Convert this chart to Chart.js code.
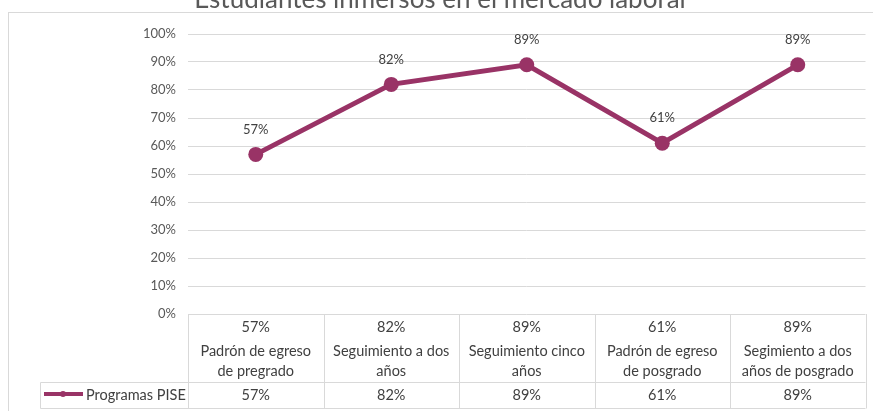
<!DOCTYPE html>
<html>
<head>
<meta charset="utf-8">
<script src="https://cdn.jsdelivr.net/npm/chart.js@4.4.1/dist/chart.umd.min.js"></script>
<style>
  html, body { margin: 0; padding: 0; background: #fff; }
</style>
</head>
<body>
<canvas id="graficaLaboral" width="873" height="411"></canvas>
<script>
const titulo = 'Estudiantes inmersos en el mercado laboral';
const categorias = [
  ['Padrón de egreso', 'de pregrado'],
  ['Seguimiento a dos', 'años'],
  ['Seguimiento cinco', 'años'],
  ['Padrón de egreso', 'de posgrado'],
  ['Segimiento a dos', 'años de posgrado']
];
const nombreSerie = 'Programas PISE';
const valores = [0.57, 0.82, 0.89, 0.61, 0.89];
const ejeYMin = 0;
const ejeYMax = 1;
const ejeYPaso = 0.1;

const colorLinea = '#993366';
const colorBorde = '#d9d9d9';
const colorTexto = '#404040';
const fuenteTabla = 'Lato, "Open Sans", sans-serif';

const pct = v => Math.round(v * 100) + '%';

// marco, titulo, etiquetas de datos y tabla de datos
const extras = {
  id: 'extras',
  beforeDraw(chart) {
    const ctx = chart.ctx;
    ctx.save();
    ctx.strokeStyle = colorBorde;
    ctx.lineWidth = 1;
    ctx.strokeRect(8.5, 12.5, 900, 500);
    ctx.fillStyle = '#595959';
    ctx.font = '26px Lato, "Open Sans", sans-serif';
    ctx.textAlign = 'center';
    ctx.textBaseline = 'alphabetic';
    ctx.fillText(titulo, 440, 8);
    ctx.restore();
  },
  afterDatasetsDraw(chart) {
    const ctx = chart.ctx;
    const meta = chart.getDatasetMeta(0);
    ctx.save();
    ctx.fillStyle = colorTexto;
    ctx.font = '13px ' + fuenteTabla;
    ctx.textAlign = 'center';
    ctx.textBaseline = 'middle';
    meta.data.forEach((p, i) => {
      ctx.fillText(pct(valores[i]), p.x, p.y - 25);
    });
    ctx.restore();
  },
  afterDraw(chart) {
    const ctx = chart.ctx;
    const area = chart.chartArea;
    const x = chart.scales.x;
    const n = valores.length;
    const ancho = (area.right - area.left) / n;
    const arriba = area.bottom;
    const medio = 382.5;
    const abajo = 408.5;
    const izqLeyenda = 40.5;
    ctx.save();
    ctx.strokeStyle = colorBorde;
    ctx.lineWidth = 1;
    ctx.beginPath();
    for (let i = 0; i <= n; i++) {
      const bx = Math.round(area.left + i * ancho) + 0.5;
      ctx.moveTo(bx, arriba);
      ctx.lineTo(bx, abajo);
    }
    ctx.moveTo(izqLeyenda, medio);
    ctx.lineTo(izqLeyenda, abajo);
    ctx.moveTo(izqLeyenda, medio);
    ctx.lineTo(area.right, medio);
    ctx.moveTo(izqLeyenda, abajo);
    ctx.lineTo(area.right, abajo);
    ctx.stroke();

    ctx.fillStyle = colorTexto;
    ctx.font = '14.5px ' + fuenteTabla;
    ctx.textAlign = 'center';
    ctx.textBaseline = 'middle';
    valores.forEach((v, i) => {
      const cx = x.getPixelForValue(i);
      ctx.fillText(pct(v), cx, 327);
      ctx.fillText(pct(v), cx, 395);
    });

    // clave de leyenda
    ctx.strokeStyle = colorLinea;
    ctx.lineWidth = 4;
    ctx.beginPath();
    ctx.moveTo(44, 394);
    ctx.lineTo(83, 394);
    ctx.stroke();
    ctx.fillStyle = colorLinea;
    ctx.beginPath();
    ctx.arc(63, 394, 3, 0, Math.PI * 2);
    ctx.fill();
    ctx.fillStyle = colorTexto;
    ctx.textAlign = 'left';
    ctx.fillText(nombreSerie, 86, 395);
    ctx.restore();
  }
};

const ctx = document.getElementById('graficaLaboral').getContext('2d');
const grafica = new Chart(ctx, {
  type: 'line',
  data: {
    labels: categorias,
    datasets: [
      {
        label: nombreSerie,
        data: valores,
        borderColor: colorLinea,
        backgroundColor: colorLinea,
        borderWidth: 5,
        pointRadius: 7.5,
        pointHoverRadius: 7.5,
        pointBackgroundColor: colorLinea,
        pointBorderWidth: 0,
        tension: 0,
        fill: false
      }
    ]
  },
  options: {
    responsive: false,
    animation: false,
    devicePixelRatio: 1,
    layout: {
      padding: { top: 34, right: 7, bottom: 0, left: 0 }
    },
    scales: {
      y: {
        min: ejeYMin,
        max: ejeYMax,
        afterFit(scale) {
          scale.width = 188;
          scale.paddingTop = 0;
          scale.paddingBottom = 0;
        },
        ticks: {
          stepSize: ejeYPaso,
          padding: 12,
          color: '#595959',
          font: { family: '"Liberation Sans Narrow", Lato, sans-serif', size: 13 },
          callback: v => pct(v)
        },
        grid: { color: colorBorde, drawTicks: false },
        border: { display: false }
      },
      x: {
        offset: true,
        afterFit(scale) {
          scale.height = 97;
          scale.paddingLeft = 0;
          scale.paddingRight = 0;
        },
        ticks: {
          autoSkip: false,
          maxRotation: 0,
          padding: 27,
          color: colorTexto,
          font: { family: fuenteTabla, size: 14.5, lineHeight: '20px' }
        },
        grid: { display: false, drawTicks: false },
        border: { display: false }
      }
    },
    plugins: {
      legend: { display: false },
      title: { display: false },
      tooltip: { enabled: false }
    }
  },
  plugins: [extras]
});
</script>
</body>
</html>
